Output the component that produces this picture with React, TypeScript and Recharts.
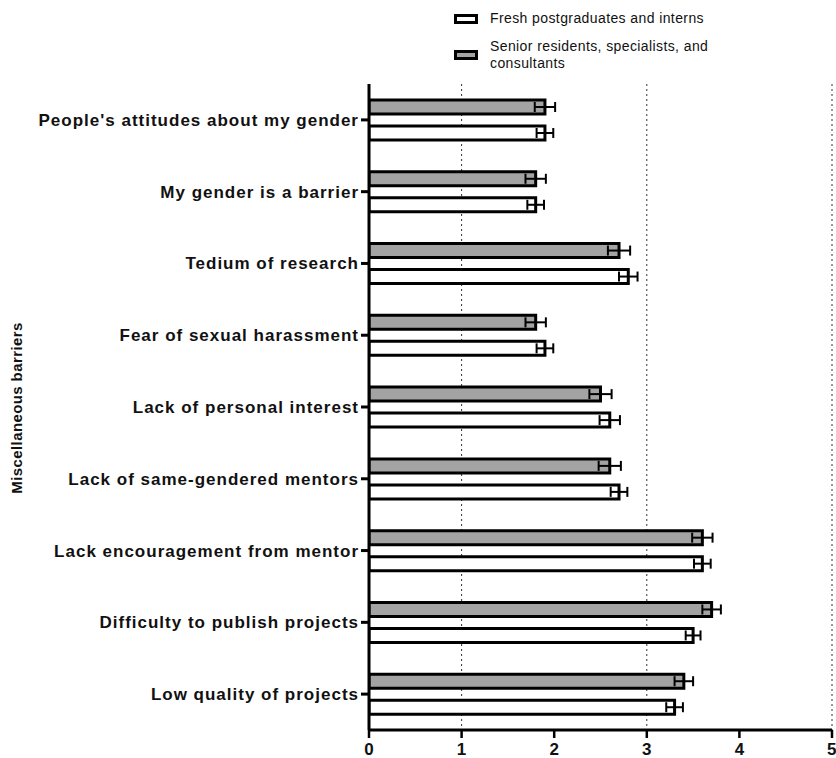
import React from "react";
import {
  BarChart,
  Bar,
  XAxis,
  YAxis,
  CartesianGrid,
  ErrorBar,
  Legend,
} from "recharts";

// Barriers, listed top to bottom
const barriers = [
  "People's attitudes about my gender",
  "My gender is a barrier",
  "Tedium of research",
  "Fear of sexual harassment",
  "Lack of personal interest",
  "Lack of same-gendered mentors",
  "Lack encouragement from mentor",
  "Difficulty to publish projects",
  "Low quality of projects",
];

// Mean scores and their error (SEM) per group
const seniorMeans = [1.9, 1.8, 2.7, 1.8, 2.5, 2.6, 3.6, 3.7, 3.4];
const seniorErrors = [0.11, 0.11, 0.12, 0.11, 0.12, 0.12, 0.11, 0.1, 0.1];
const freshMeans = [1.9, 1.8, 2.8, 1.9, 2.6, 2.7, 3.6, 3.5, 3.3];
const freshErrors = [0.09, 0.09, 0.1, 0.09, 0.11, 0.09, 0.09, 0.08, 0.09];

const xTicks = [0, 1, 2, 3, 4, 5];
const gridValues = [1, 3, 5];

const freshName = "Fresh postgraduates and interns";
const seniorName = "Senior residents, specialists, and consultants";
const axisTitle = "Miscellaneous barriers";

const rows = barriers.map((name, i) => ({
  name,
  senior: seniorMeans[i],
  seniorErr: seniorErrors[i],
  fresh: freshMeans[i],
  freshErr: freshErrors[i],
}));

const FONT = "'Liberation Sans', Arial, Helvetica, sans-serif";

const legendEntries = [
  { label: ["Fresh postgraduates and interns"], fill: "#ffffff" },
  { label: ["Senior residents, specialists, and", "consultants"], fill: "#a3a3a3" },
];

const LegendBox = () => (
  <div style={{ fontFamily: FONT, fontSize: 14, letterSpacing: 0.4, color: "#111" }}>
    {legendEntries.map((e, i) => (
      <div
        key={i}
        style={{
          display: "flex",
          alignItems: "center",
          marginBottom: i === 0 ? 11 : 0,
        }}
      >
        <svg width={24} height={10} style={{ marginRight: 12, flex: "none" }}>
          <rect x={1.5} y={1.5} width={21} height={7} fill={e.fill} stroke="#000" strokeWidth={3} />
        </svg>
        <div style={{ lineHeight: "17px" }}>
          {e.label.map((l, j) => (
            <div key={j}>{l}</div>
          ))}
        </div>
      </div>
    ))}
  </div>
);

const AxisTitle = (props: any) => {
  const vb = props.viewBox || { y: 84, height: 646 };
  const cy = vb.y + vb.height / 2 + 1;
  return (
    <text
      x={22}
      y={cy}
      transform={`rotate(-90, 22, ${cy})`}
      textAnchor="middle"
      fontFamily={FONT}
      fontSize={15}
      fontWeight={700}
      letterSpacing={0.4}
      fill="#111"
    >
      {axisTitle}
    </text>
  );
};

export default function App() {
  return (
    <div style={{ position: "absolute", left: 0, top: 0, background: "#fff" }}>
      <BarChart
        width={836}
        height={758}
        data={rows}
        layout="vertical"
        margin={{ top: 84, right: 4, bottom: 0, left: 0 }}
        barSize={14}
        barGap={12}
      >
        <CartesianGrid
          horizontal={false}
          vertical={true}
          verticalValues={gridValues}
          stroke="#333"
          strokeDasharray="2 3"
          strokeWidth={1}
        />
        <XAxis
          type="number"
          domain={[0, 5]}
          ticks={xTicks}
          allowDataOverflow
          height={28}
          axisLine={{ stroke: "#000", strokeWidth: 3 }}
          tickLine={{ stroke: "#000", strokeWidth: 2.5 }}
          tickSize={8}
          tickMargin={5}
          tick={{ fontFamily: FONT, fontSize: 17, fontWeight: 700, fill: "#111" }}
        />
        <YAxis
          type="category"
          dataKey="name"
          width={369}
          interval={0}
          axisLine={{ stroke: "#000", strokeWidth: 3 }}
          tickLine={{ stroke: "#000", strokeWidth: 3 }}
          tickSize={8}
          tickMargin={2}
          tick={{ fontFamily: FONT, fontSize: 17, fontWeight: 700, letterSpacing: 1, fill: "#111" }}
          label={{ content: AxisTitle }}
        />
        <Legend
          layout="vertical"
          align="center"
          verticalAlign="middle"
          content={LegendBox}
          wrapperStyle={{ position: "absolute", left: 454, top: 10, width: 320 }}
        />
        <Bar
          dataKey="senior"
          name={seniorName}
          fill="#a3a3a3"
          stroke="#000"
          strokeWidth={3}
          isAnimationActive={false}
        >
          <ErrorBar dataKey="seniorErr" direction="x" width={5} stroke="#000" strokeWidth={2} />
        </Bar>
        <Bar
          dataKey="fresh"
          name={freshName}
          fill="#ffffff"
          stroke="#000"
          strokeWidth={3}
          isAnimationActive={false}
        >
          <ErrorBar dataKey="freshErr" direction="x" width={5} stroke="#000" strokeWidth={2} />
        </Bar>
      </BarChart>
    </div>
  );
}
